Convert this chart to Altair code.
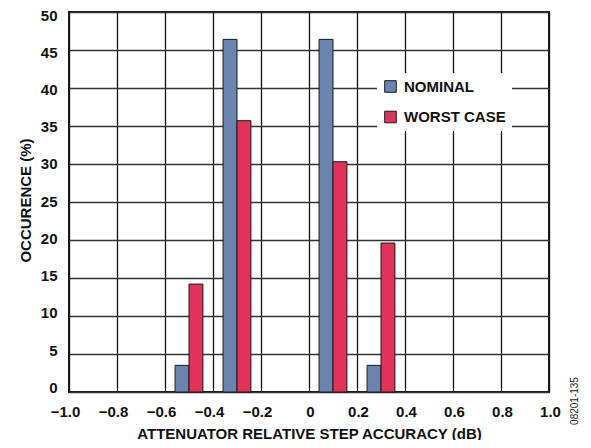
import altair as alt
import pandas as pd

# ---- data ----
centers = [-0.5, -0.3, 0.1, 0.3]
nominal = [3.5, 46.4, 46.4, 3.5]
worst_case = [14.2, 35.7, 30.3, 19.6]
series_names = ["NOMINAL", "WORST CASE"]
x_ticks = [-1.0, -0.8, -0.6, -0.4, -0.2, 0.0, 0.2, 0.4, 0.6, 0.8, 1.0]
y_ticks = [0, 5, 10, 15, 20, 25, 30, 35, 40, 45, 50]
side_note = ["08201-135"]

BAR_W = 0.058
rows = []
for c, n, w in zip(centers, nominal, worst_case):
    rows.append({"series": series_names[0], "x0": c - BAR_W, "x1": c, "value": n})
    rows.append({"series": series_names[1], "x0": c, "x1": c + BAR_W, "value": w})
df = pd.DataFrame(rows)

FONT = "Liberation Sans"
BLUE = "#6A84B0"
RED = "#E2325A"

bars = alt.Chart(df).mark_bar(stroke="#1a1a1a", strokeWidth=1).encode(
    x=alt.X(
        "x0:Q",
        scale=alt.Scale(domain=[-1, 1], nice=False, zero=False),
        axis=alt.Axis(
            values=x_ticks,
            title="ATTENUATOR RELATIVE STEP ACCURACY (dB)",
            labelExpr="datum.value == 0 ? '0' : replace(format(datum.value, '.1f'), '-', '\u2013')",
            labelOffset={"expr": "datum.value < 0 ? -4 : 1"},
            grid=True, gridColor="#111111", gridWidth=1.3,
            ticks=False, tickSize=0, domain=False,
            labelFlush=False, labelOverlap=False,
            labelBaseline="alphabetic", labelPadding=24.7,
            labelFont=FONT, labelFontSize=15, labelFontWeight="bold", labelColor="#111111",
            titleFont=FONT, titleFontSize=15, titleFontWeight="bold", titleColor="#111111",
            titleX=240, titleY=46, titleBaseline="alphabetic", titleAlign="center",
        ),
    ),
    x2="x1:Q",
    y=alt.Y(
        "value:Q",
        scale=alt.Scale(domain=[0, 50], nice=False),
        axis=alt.Axis(
            values=y_ticks,
            title="OCCURENCE (%)",
            labelOffset={"expr": "datum.value == 50 ? 3.6 : -0.8 + (datum.value - 25) * 0.155"},
            grid=True, gridColor="#333333", gridWidth=1.7,
            ticks=False, tickSize=0, domain=False,
            labelFlush=False, labelOverlap=False,
            labelPadding=12,
            labelFont=FONT, labelFontSize=15, labelFontWeight="bold", labelColor="#111111",
            titleFont=FONT, titleFontSize=15, titleFontWeight="bold", titleColor="#111111",
            titleAngle=270, titleX=-39, titleY=188, titleBaseline="alphabetic", titleAlign="center",
        ),
    ),
    y2=alt.datum(0),
    color=alt.Color(
        "series:N",
        scale=alt.Scale(domain=series_names, range=[BLUE, RED]),
        legend=alt.Legend(
            title=None, orient="none", legendX=308, legendY=61,
            fillColor="white", padding=6,
            symbolType="square", symbolSize=135,
            symbolStrokeColor="#1a1a1a", symbolStrokeWidth=1, symbolOpacity=1,
            labelFont=FONT, labelFontSize=15, labelFontWeight="bold", labelColor="#111111",
            labelOffset=6, rowPadding=13.5,
        ),
    ),
)

note = alt.Chart(pd.DataFrame({"t": side_note})).mark_text(
    angle=270, font=FONT, fontSize=10, color="#222222", align="center", baseline="middle"
).encode(text="t:N", x=alt.value(506), y=alt.value(389))

chart = alt.layer(bars, note).properties(
    width=480, height=380,
    autosize=alt.AutoSizeParams(type="none"),
    padding={"left": 61, "top": 4, "right": 34, "bottom": 48},
).configure_view(stroke="#1a1a1a", strokeWidth=2)

chart.save("out.html", embed_options={"renderer": "svg", "actions": False})
